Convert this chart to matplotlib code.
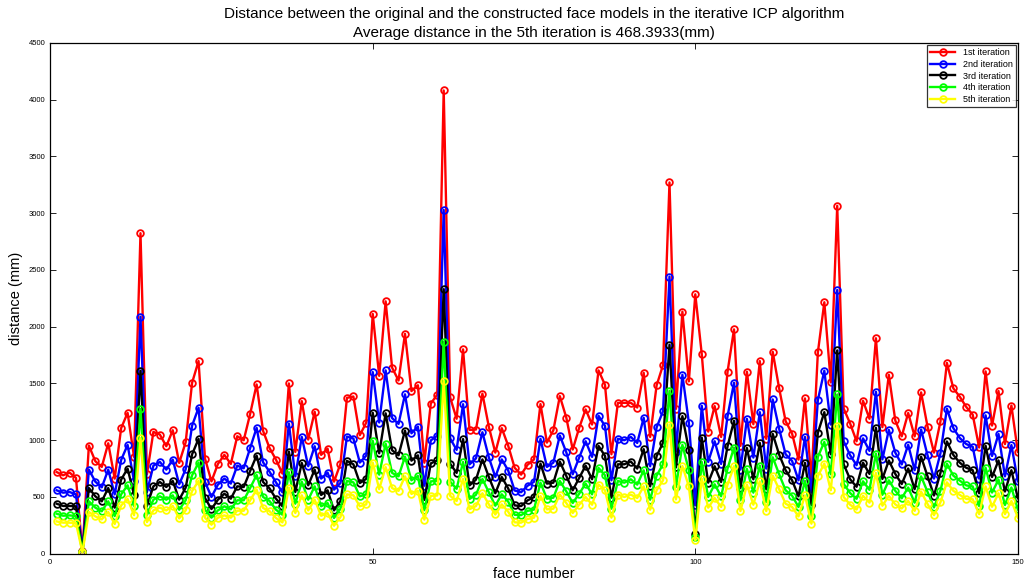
import numpy as np
import matplotlib
matplotlib.use("Agg")
import matplotlib.pyplot as plt

# face numbers 1..150
faces = np.arange(1, 151)

iter1 = [720, 691, 715, 668, 20, 953, 815, 765, 973, 662, 1106, 1241, 853, 2823, 700, 1073, 1050, 947, 1088, 800, 982, 1506, 1697, 838, 638,
         791, 871, 791, 1035, 1000, 1232, 1491, 1082, 932, 829, 706, 1500, 897, 1344, 1006, 1250, 871, 926, 635, 794, 1373, 1385, 1044, 1156, 2112,
         1567, 2223, 1639, 1526, 1937, 1433, 1484, 802, 1323, 1401, 4080, 1377, 1189, 1800, 1091, 1094, 1410, 1118, 891, 1106, 951, 757, 697, 784, 831,
         1318, 979, 1088, 1388, 1200, 918, 1109, 1271, 1138, 1615, 1488, 876, 1329, 1329, 1329, 1288, 1594, 1029, 1482, 1662, 3270, 1276, 2132, 1518, 2285,
         1759, 1076, 1300, 1029, 1603, 1976, 950, 1603, 1141, 1697, 1012, 1779, 1456, 1168, 1059, 829, 1368, 650, 1773, 2215, 1509, 3064, 1279, 1147, 991,
         1347, 1189, 1898, 1115, 1576, 1174, 1034, 1240, 1034, 1421, 1120, 891, 1165, 1681, 1457, 1383, 1293, 1225, 936, 1606, 1129, 1433, 966, 1305, 897]

iter2 = [559, 538, 544, 523, 18, 741, 635, 585, 741, 523, 826, 959, 640, 2088, 544, 776, 809, 741, 829, 612, 744, 1129, 1285, 632, 500,
         609, 662, 618, 776, 753, 932, 1109, 806, 723, 629, 541, 1147, 682, 1029, 771, 947, 662, 715, 565, 623, 1032, 1015, 803, 865, 1600,
         1156, 1615, 1195, 1144, 1404, 1061, 1120, 599, 998, 1040, 3028, 1016, 915, 1317, 787, 840, 1070, 849, 676, 831, 733, 557, 542, 599, 634,
         1012, 765, 803, 1041, 894, 700, 847, 991, 853, 1215, 1126, 647, 1012, 1000, 1029, 976, 1197, 771, 1112, 1256, 2441, 900, 1576, 1156, 426,
         1303, 809, 991, 791, 1212, 1506, 741, 1188, 847, 1247, 750, 1359, 1100, 876, 818, 647, 1029, 540, 1353, 1612, 1138, 2323, 991, 868, 780,
         1016, 906, 1427, 831, 1091, 891, 787, 960, 736, 1094, 867, 662, 885, 1278, 1106, 1019, 966, 942, 662, 1219, 861, 1055, 682, 957, 638]

iter3 = [441, 421, 421, 418, 16, 579, 506, 462, 579, 406, 653, 750, 520, 1612, 421, 594, 632, 588, 641, 476, 582, 876, 1012, 491, 394,
         476, 529, 485, 594, 588, 729, 865, 632, 576, 485, 418, 900, 544, 800, 603, 741, 518, 559, 382, 465, 818, 788, 623, 660, 1242,
         885, 1237, 912, 867, 1085, 820, 867, 474, 796, 822, 2330, 793, 712, 1010, 602, 653, 831, 676, 533, 676, 575, 426, 420, 470, 499,
         794, 618, 626, 812, 685, 559, 668, 776, 656, 950, 862, 494, 788, 788, 812, 750, 921, 594, 859, 979, 1841, 760, 1212, 918, 176,
         1023, 626, 771, 632, 947, 1171, 579, 932, 656, 976, 568, 1056, 873, 735, 647, 506, 800, 430, 1065, 1247, 876, 1791, 788, 656, 590,
         802, 703, 1109, 659, 822, 703, 614, 751, 569, 855, 682, 513, 712, 989, 870, 802, 757, 736, 533, 951, 676, 822, 548, 736, 489]

iter4 = [353, 335, 338, 332, 14, 462, 406, 374, 462, 332, 523, 603, 420, 1276, 341, 476, 506, 476, 515, 388, 471, 691, 803, 388, 318,
         382, 418, 391, 471, 471, 579, 694, 500, 465, 388, 344, 718, 441, 635, 476, 594, 418, 447, 315, 397, 641, 629, 506, 523, 995,
         697, 969, 712, 682, 855, 647, 685, 384, 638, 641, 1868, 635, 572, 808, 483, 519, 659, 542, 423, 524, 459, 343, 340, 378, 389,
         626, 485, 494, 641, 550, 447, 529, 618, 523, 756, 691, 397, 641, 626, 656, 609, 735, 476, 688, 788, 1435, 588, 959, 735, 147,
         809, 500, 612, 506, 750, 935, 471, 747, 538, 776, 456, 850, 700, 559, 512, 412, 641, 329, 853, 985, 700, 1403, 615, 535, 484,
         638, 563, 882, 519, 647, 554, 489, 584, 450, 682, 545, 408, 557, 793, 688, 644, 602, 593, 420, 757, 539, 653, 429, 584, 390]

iter5 = [285, 274, 274, 271, 12, 368, 329, 303, 368, 262, 426, 482, 340, 1018, 279, 382, 406, 382, 421, 312, 382, 553, 641, 318, 256,
         318, 338, 318, 379, 379, 471, 565, 403, 376, 315, 276, 582, 359, 515, 382, 476, 335, 359, 247, 324, 523, 515, 418, 435, 803,
         569, 763, 578, 554, 682, 527, 554, 301, 510, 513, 1523, 510, 465, 659, 393, 420, 533, 435, 346, 435, 370, 277, 274, 306, 318,
         509, 391, 397, 521, 447, 359, 432, 500, 432, 609, 559, 318, 521, 500, 521, 491, 594, 388, 559, 647, 1138, 479, 773, 594, 118,
         662, 406, 491, 412, 609, 771, 376, 609, 432, 638, 376, 688, 568, 441, 412, 329, 515, 265, 685, 794, 559, 1129, 500, 432, 390,
         510, 450, 712, 423, 510, 435, 399, 465, 378, 548, 438, 340, 453, 629, 554, 519, 483, 480, 349, 593, 414, 533, 349, 465, 319]

labels = ["1st iteration", "2nd iteration", "3rd iteration", "4th iteration", "5th iteration"]
colors = ["#ff0000", "#0000ff", "#000000", "#00ff00", "#ffff00"]

plt.rcParams["font.family"] = ["Liberation Sans", "DejaVu Sans"]

fig = plt.figure(figsize=(10.24, 5.86), dpi=100)
ax = fig.add_axes([0.049, 0.055, 0.945, 0.872])

for vals, lab, col in zip([iter1, iter2, iter3, iter4, iter5], labels, colors):
    ax.plot(faces, vals, color=col, lw=1.7, marker="o", ms=4.8,
            mfc="none", mec=col, mew=1.3, label=lab)

ax.set_xlim(0, 150)
ax.set_ylim(0, 4500)
ax.set_xticks([0, 50, 100, 150])
ax.set_yticks(np.arange(0, 4501, 500))
ax.tick_params(direction="in", top=True, right=True, labelsize=5.5, length=4, width=0.6)
for s in ax.spines.values():
    s.set_linewidth(0.9)

ax.set_xlabel("face number", fontsize=10.5, labelpad=1)
ax.set_ylabel("distance (mm)", fontsize=10.5, labelpad=4)
ax.set_title("Distance between the original and the constructed face models in the iterative ICP algorithm\n"
             "Average distance in the 5th iteration is 468.3933(mm)", fontsize=11, pad=4, linespacing=1.45)

leg = ax.legend(loc="upper right", fontsize=6.5, frameon=True, fancybox=False,
                borderaxespad=0.25, handlelength=2.8, labelspacing=0.3, borderpad=0.35)
leg.get_frame().set_edgecolor("black")
leg.get_frame().set_linewidth(0.9)

fig.savefig("out.png", dpi=100)
